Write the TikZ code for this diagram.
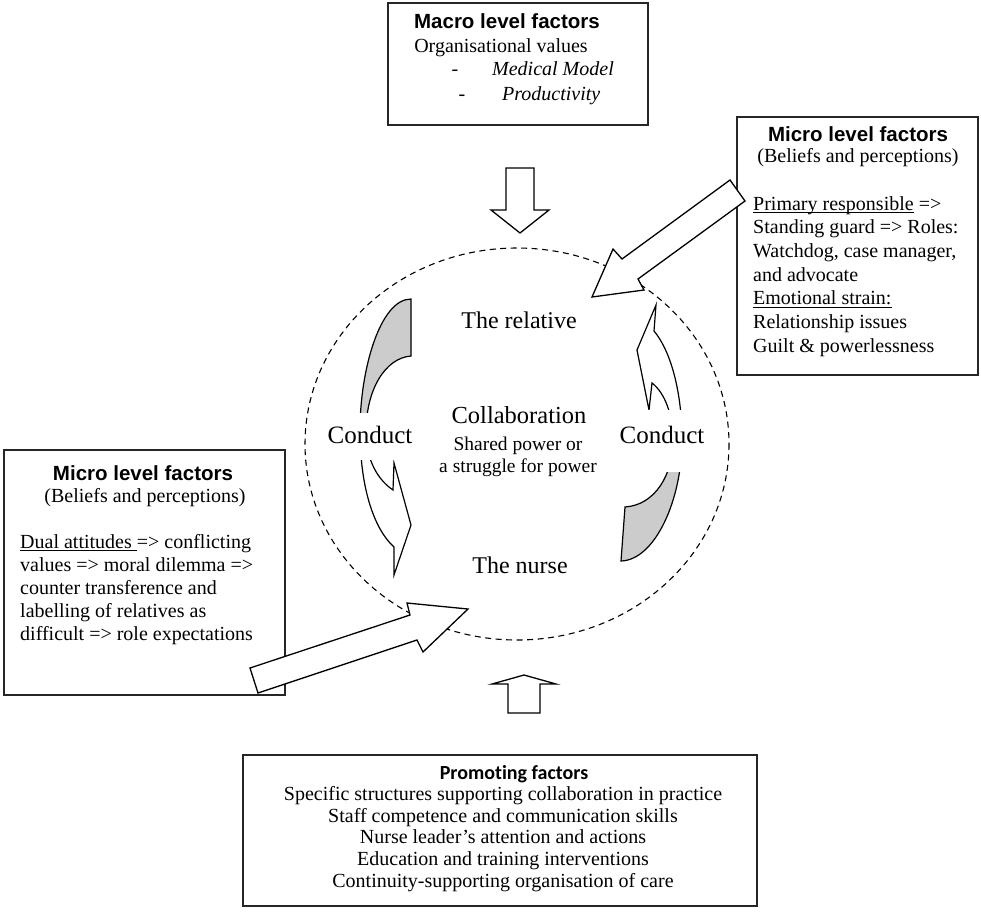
\documentclass[tikz,border=0pt]{standalone}
\usepackage{fontspec}
\setmainfont{Liberation Serif}
\newfontfamily\headfont{Liberation Sans}
\newfontfamily\promofont[Ligatures=NoCommon]{Carlito}
\newcommand\myul[1]{\setbox0\hbox{#1}\rlap{\rule[-2.6pt]{\wd0}{0.9pt}}\box0\relax}
\begin{document}
\begin{tikzpicture}[x=1pt,y=-1pt,
  box/.style={draw=black!85,line width=1.4pt,fill=white,inner sep=0pt,outer sep=0pt,anchor=north west},
  body/.style={font=\fontsize{20}{23}\selectfont,inner sep=0pt},
  headt/.style={font=\headfont\bfseries\fontsize{20.5}{23}\selectfont,inner sep=0pt,anchor=base},
  big/.style={font=\fontsize{24}{28}\selectfont,inner sep=0pt,anchor=base},
  mid/.style={font=\fontsize{19.5}{22}\selectfont,inner sep=0pt,anchor=base},
  blockarrow/.style={draw=black,line width=1.3pt,fill=white,line join=miter},
  curly/.style={draw=black,line width=1.2pt,line join=miter},
  cut/.style={fill=white,inner sep=0pt,outer sep=0pt},
  ring/.style={draw=black,line width=1.1pt,dash pattern=on 6pt off 4.5pt}
]
\useasboundingbox (0,0) rectangle (981,913);

% ---------- boxes ----------
\node[box,minimum width=260,minimum height=122] (macro) at (388,3) {};
\node[box,minimum width=241,minimum height=258] (microR) at (737,117) {};
\node[box,minimum width=281,minimum height=245] (microL) at (4,450) {};
\node[box,minimum width=514,minimum height=151] (promo) at (243,755) {};

% macro text
\node[headt] (macroh) at (507,28) {Macro level factors};
\node[body,anchor=base] (macro1) at (501,52) {Organisational values};
\node[body,anchor=base] (macro2d) at (455,75) {-};
\node[body,anchor=base west] (macro2) at (492,75) {\textit{Medical Model}};
\node[body,anchor=base] (macro3d) at (462,100) {-};
\node[body,anchor=base west] (macro3) at (502,100) {\textit{Productivity}};

% right micro text
\node[headt] (mrh) at (858,141) {Micro level factors};
\node[body,anchor=base] (mr0) at (858,162) {(Beliefs and perceptions)};
\node[body,anchor=base west] (mr1) at (753,210) {\myul{Primary responsible} =>};
\node[body,anchor=base west] (mr2) at (753,233.7) {Standing guard => Roles:};
\node[body,anchor=base west] (mr3) at (753,257.4) {Watchdog, case manager,};
\node[body,anchor=base west] (mr4) at (753,281) {and advocate};
\node[body,anchor=base west] (mr5) at (753,304.8) {\myul{Emotional strain:}};
\node[body,anchor=base west] (mr6) at (753,328.5) {Relationship issues};
\node[body,anchor=base west] (mr7) at (753,352.2) {Guilt \& powerlessness};

% left micro text
\node[headt] (mlh) at (143,480) {Micro level factors};
\node[body,anchor=base] (ml0) at (145,502) {(Beliefs and perceptions)};
\node[body,anchor=base west] (ml1) at (20,548) {\myul{Dual attitudes\ }=> conflicting};
\node[body,anchor=base west] (ml2) at (20,571) {values => moral dilemma =>};
\node[body,anchor=base west] (ml3) at (20,594) {counter transference and};
\node[body,anchor=base west] (ml4) at (20,617) {labelling of relatives as};
\node[body,anchor=base west] (ml5) at (20,640) {difficult => role expectations};

% promoting text
\node[headt,font=\promofont\bfseries\fontsize{20}{22}\selectfont] (ph) at (514,779) {Promoting factors};
\node[body,anchor=base] (p1) at (503,800) {Specific structures supporting collaboration in practice};
\node[body,anchor=base] (p2) at (503,822) {Staff competence and communication skills};
\node[body,anchor=base] (p3) at (503,843.5) {Nurse leader’s attention and actions};
\node[body,anchor=base] (p4) at (503,865) {Education and training interventions};
\node[body,anchor=base] (p5) at (503,887) {Continuity-supporting organisation of care};

% ---------- dashed circle ----------
\draw[ring] (517,444) ellipse [x radius=212, y radius=196];

% ---------- curved arrows ----------
% left: gray back part
\draw[curly,fill=black!20] (411,299) -- (411,356)
  .. controls (385,358) and (366,390) .. (366,432)
  -- (360,430)
  .. controls (360,370) and (380,299) .. (411,299) -- cycle;
% left: front part with head
\draw[curly,fill=white] (366,432)
  .. controls (366,460) and (378,480) .. (393,490)
  -- (394,463) -- (411,525) -- (394,575) -- (394,547)
  .. controls (375,530) and (360,490) .. (360,430) -- cycle;
% right: gray back part
\draw[curly,fill=black!20] (625,507) -- (621,561)
  .. controls (655,560) and (682,500) .. (682,440)
  -- (673,440)
  .. controls (673,475) and (655,505) .. (625,507) -- cycle;
% right: front part with head
\draw[curly,fill=white] (673,440)
  .. controls (673,415) and (665,393) .. (652,383)
  -- (649,410) -- (637,350) -- (656,305) -- (654,331)
  .. controls (670,350) and (682,390) .. (682,440) -- cycle;

% ---------- labels inside ----------
\node[cut,minimum width=92,minimum height=47] (cutL) at (371,436.5) {};
\node[cut,minimum width=92,minimum height=62] (cutR) at (662,441) {};
\node[big,font=\fontsize{25}{28}\selectfont] (conductL) at (370,443) {Conduct};
\node[big,font=\fontsize{25}{28}\selectfont] (conductR) at (662,443) {Conduct};
\node[big] (relative) at (519,328) {The relative};
\node[big,font=\fontsize{24.5}{28}\selectfont] (collab) at (519,423) {Collaboration};
\node[mid] (shared) at (518,450) {Shared power or};
\node[mid] (struggle) at (518,472) {a struggle for power};
\node[big] (nurse) at (520,573) {The nurse};

% ---------- straight block arrows ----------
\draw[blockarrow] (506,168) -- (534,168) -- (534,210) -- (549,210) -- (520,233)
  -- (491,210) -- (506,210) -- cycle;
\draw[blockarrow] (508,713) -- (540,713) -- (540,684) -- (556,684) -- (524,675)
  -- (492,684) -- (508,684) -- cycle;

% ---------- diagonal block arrows ----------
\draw[blockarrow] (592,297) -- (613,249) -- (622,259) -- (730,180) -- (745,201)
  -- (638,279) -- (644,290) -- cycle;
\draw[blockarrow] (468,609) -- (407,603) -- (410,615) -- (250,668) -- (258,693)
  -- (417,640) -- (423,652) -- cycle;
\end{tikzpicture}
\end{document}
